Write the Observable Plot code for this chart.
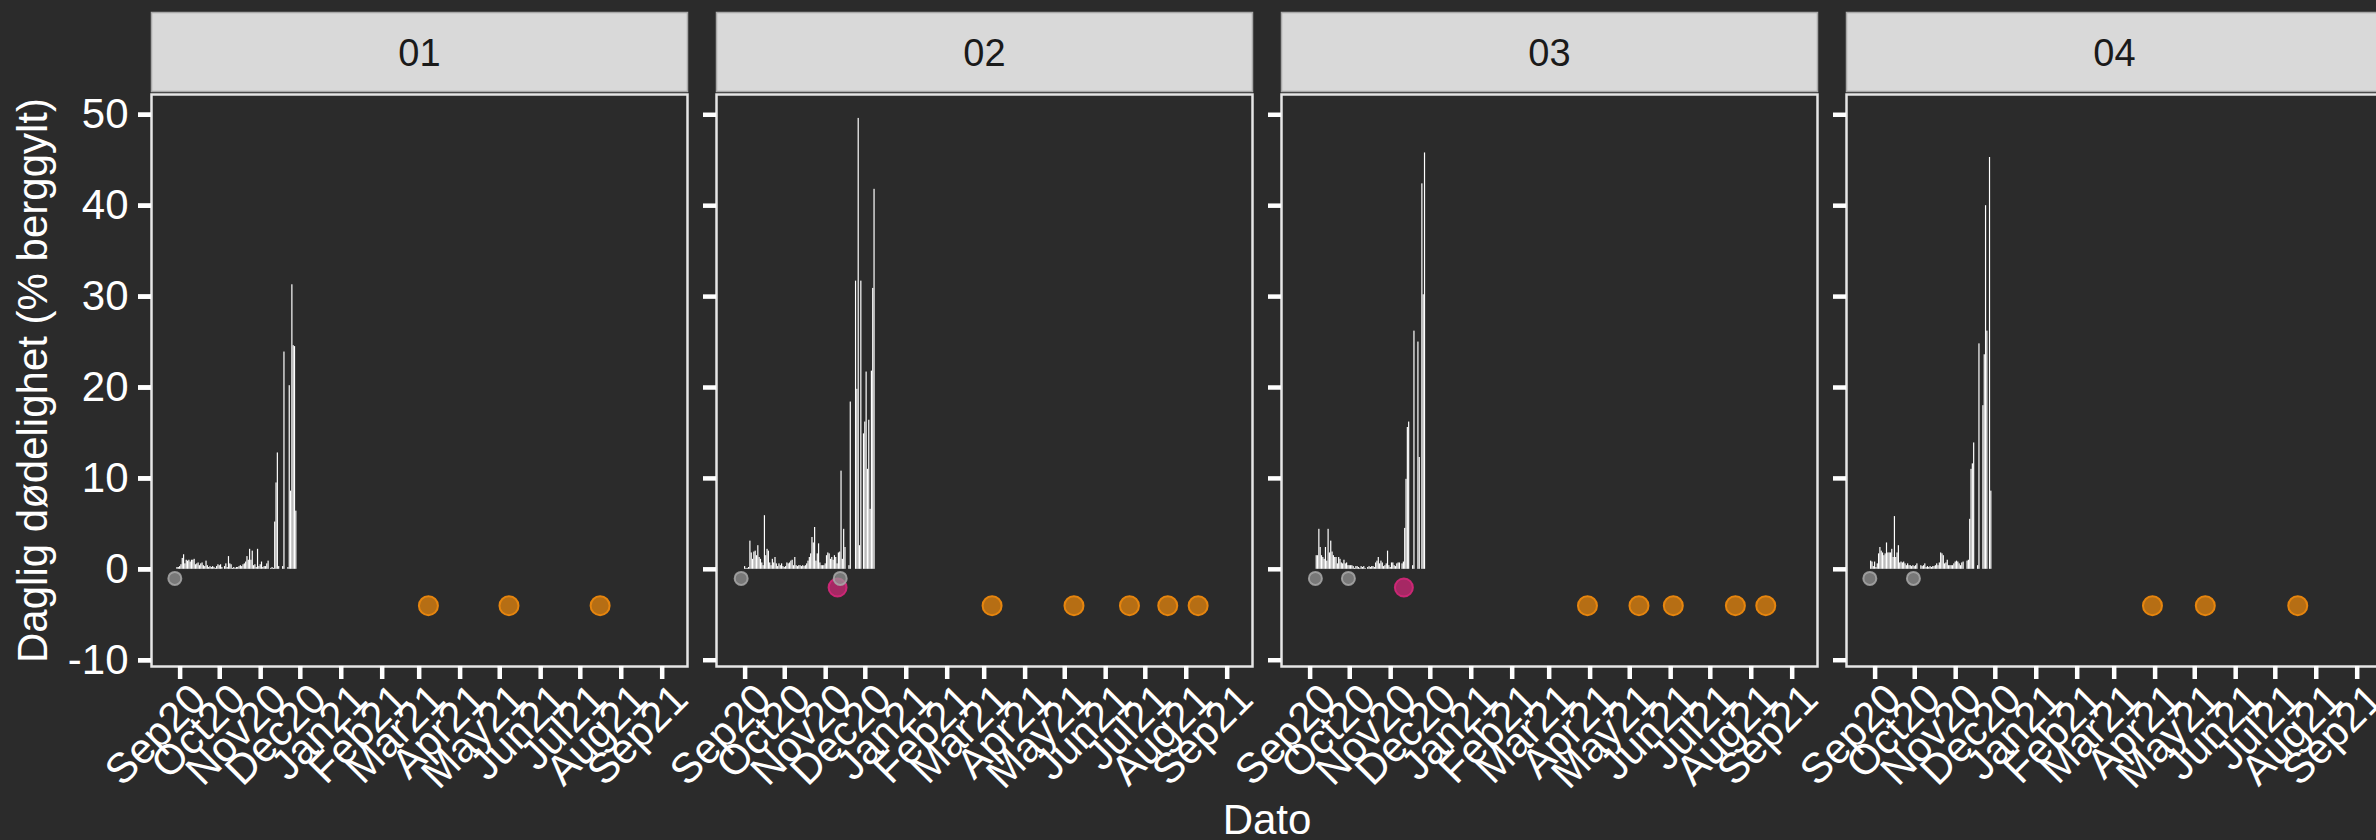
<!DOCTYPE html>
<html>
<head>
<meta charset="utf-8">
<script src="https://cdn.jsdelivr.net/npm/d3@7"></script>
<script src="https://cdn.jsdelivr.net/npm/@observablehq/plot@0.6"></script>
<style>
html, body { margin: 0; padding: 0; background: #2b2b2b; overflow: hidden; width: 2376px; height: 840px; }
#chart svg { max-width: none !important; display: block; }
</style>
</head>
<body>
<div id="chart"></div>
<script>
// ---- categories / ticks ----
const facets = ["01", "02", "03", "04"];
const yTicks = [-10, 0, 10, 20, 30, 40, 50];
const monthTicks = ["2020-09-01","2020-10-01","2020-11-01","2020-12-01","2021-01-01","2021-02-01",
  "2021-03-01","2021-04-01","2021-05-01","2021-06-01","2021-07-01","2021-08-01","2021-09-01"];
const xDomain = ["2020-08-10T08:00:00Z", "2021-09-20T04:00:00Z"];
const yDomain = [-10.69, 52.23];

// ---- daily mortality (% berggylt), one value per day from barStart ----
const barStart = ["2020-08-30", "2020-09-01", "2020-09-06", "2020-08-29"];
const bars01 = [0.2,0.2,0.3,0.5,1.2,1.6,0.6,1.0,0.9,1.0, 0.8,1.0,1.0,1.1,0.5,0.6,0.7,0.4,0.6,0.7,
  0.4,0.3,0.9,0.4,0.2,0.3,0.2,0.3,0.2,0.1, 0.3,0.5,0.4,0.5,0.2,0.0,0.3,0.6,0.2,1.4,
  0.6,0.5,0.1,0.2,0.1,0.2,0.2,0.3,0.4,0.3, 0.5,0.6,0.8,1.4,1.0,2.2,1.0,2.0,0.4,0.5,
  0.2,2.2,0.3,0.5,0.8,0.2,0.3,0.3,0.6,0.9, 0.0,0.1,0.2,0.1,5.2,9.5,12.8,0.3,0.0,0.0,
  0.3,23.9,0.0,0.0,0.2,20.2,8.6,31.3,24.6,24.5, 6.4];
const bars02 = [0.3,0.1,0.1,0.2,3.1,1.8,1.1,1.9,2.0,1.5, 2.6,1.3,1.1,0.7,0.4,5.9,1.5,2.2,2.0,0.7,
  0.4,1.1,0.7,1.3,0.6,0.3,0.6,0.4,0.6,0.3, 0.2,0.3,0.7,0.6,0.7,0.9,1.0,0.4,1.3,0.4,
  0.3,0.4,0.4,0.3,0.4,0.3,0.4,0.6,0.9,1.3, 1.7,3.5,2.9,4.6,0.9,1.7,2.8,0.7,0.4,0.4,
  0.4,0.6,1.5,1.8,1.7,1.1,1.3,1.0,1.5,1.3, 0.6,1.8,1.9,10.8,1.1,4.4,2.4,0.0,0.0,0.4,
  18.4,0.0,0.0,0.0,31.7,19.8,49.6,2.6,31.7,0.0, 14.9,16.2,21.7,11.0,16.4,6.6,21.8,30.9,41.8];
const bars03 = [1.5,1.5,4.4,2.4,1.5,1.3,1.1,2.4,0.9,4.4, 1.8,3.1,1.9,1.5,1.3,1.3,0.6,1.3,1.1,0.7,
  0.6,1.0,0.6,0.7,0.4,0.4,0.4,0.4,0.3,0.1, 0.3,0.3,0.2,0.1,0.3,0.2,0.3,0.1,0.0,0.2,
  0.3,0.2,0.3,0.3,0.2,0.7,0.9,1.3,0.6,0.9, 0.7,0.3,0.4,0.6,2.0,0.4,0.2,0.7,0.7,0.4,
  0.3,0.6,0.7,0.7,0.0,0.6,0.8,4.5,9.9,15.6, 16.2,0.0,0.0,0.4,26.2,0.0,0.0,25.0,12.3,0.0,
  42.4,30.2,45.8];
const bars04 = [0.9,0.8,0.3,0.8,0.2,0.6,1.7,2.4,2.0,1.8, 1.5,1.7,2.9,1.8,1.8,1.8,2.2,1.3,5.8,1.3,
  1.8,2.6,0.7,0.8,0.7,0.8,0.6,0.4,0.6,0.4, 0.4,0.3,0.4,0.3,0.4,0.6,0.0,0.0,0.4,0.3,
  0.4,0.6,0.2,0.3,0.2,0.3,0.2,0.3,0.3,0.4, 0.6,0.4,0.7,1.8,1.7,1.5,0.6,0.7,1.0,0.4,
  0.4,0.4,0.4,0.6,0.8,0.9,0.8,0.6,0.4,0.7, 0.8,0.0,0.0,0.9,1.0,5.5,11.0,11.6,13.9,0.0,
  0.0,0.4,24.8,0.0,0.0,18.0,23.6,40.0,26.2,0.0, 45.3,8.6];

// ---- event markers ----
const grayFacet = ["01", "02", "02", "03", "03", "04", "04"];
const grayDate = ["2020-08-28", "2020-08-29", "2020-11-12", "2020-09-05", "2020-09-30", "2020-08-28", "2020-09-30"];
const grayLevel = -1;
const magentaFacet = ["02", "03"];
const magentaDate = ["2020-11-10", "2020-11-11"];
const magentaLevel = -2;
const orangeFacet = ["01","01","01", "02","02","02","02","02", "03","03","03","03","03", "04","04","04"];
const orangeDate = ["2021-03-08","2021-05-08","2021-07-16",
  "2021-03-07","2021-05-08","2021-06-19","2021-07-18","2021-08-10",
  "2021-03-30","2021-05-08","2021-06-03","2021-07-20","2021-08-12",
  "2021-03-30","2021-05-09","2021-07-18"];
const orangeLevel = -4;

// ---- tables built from the arrays ----
const DAY = 864e5;
const bars = [];
[bars01, bars02, bars03, bars04].forEach((vals, i) => {
  const s = Date.parse(barStart[i] + "T00:00:00Z");
  vals.forEach((v, j) => {
    const t = s + j * DAY;
    bars.push({facet: facets[i], x1: new Date(t - 0.45 * DAY), x2: new Date(t + 0.45 * DAY), value: v});
  });
});
const pts = (fs, ds, lvl) => fs.map((f, i) => ({facet: f, date: new Date(ds[i] + "T00:00:00Z"), y: lvl}));
const grayPts = pts(grayFacet, grayDate, grayLevel);
const magentaPts = pts(magentaFacet, magentaDate, magentaLevel);
const orangePts = pts(orangeFacet, orangeDate, orangeLevel);
const monthDates = monthTicks.map(d => new Date(d + "T00:00:00Z"));
const fmtMonth = d3.utcFormat("%b%y");

const chart = Plot.plot({
  width: 2390,
  height: 840,
  marginLeft: 150,
  marginRight: 7,
  marginTop: 94,
  marginBottom: 174,
  style: "background:#2b2b2b; color:white; font-family:'Liberation Sans', Arial, Helvetica, sans-serif; max-width:none; overflow:visible;",
  fx: {domain: facets, paddingInner: 0.0513, paddingOuter: 0, axis: null, label: null},
  x: {type: "utc", domain: xDomain.map(d => new Date(d)), axis: null},
  y: {domain: yDomain, axis: null},
  marks: [
    // facet strips
    Plot.frame({fill: "#d9d9d9", stroke: "#a8a8a8", strokeWidth: 1.5, insetTop: -82, insetBottom: 575}),
    Plot.text(facets, {fx: d => d, text: d => d, frameAnchor: "top", lineAnchor: "middle", dy: -41, fontSize: 38, fill: "#1a1a1a"}),
    // bars
    Plot.rectY(bars, {fx: "facet", x1: "x1", x2: "x2", y: "value", fill: "white"}),
    // markers
    Plot.dot(magentaPts, {fx: "facet", x: "date", y: "y", r: 9, fill: "#d6277a", fillOpacity: 0.72, stroke: "#d6277a", strokeOpacity: 0.9, strokeWidth: 2}),
    Plot.dot(grayPts, {fx: "facet", x: "date", y: "y", r: 6.5, fill: "#9a9a9a", fillOpacity: 0.7, stroke: "#a8a8a8", strokeOpacity: 0.85, strokeWidth: 2}),
    Plot.dot(orangePts, {fx: "facet", x: "date", y: "y", r: 9.5, fill: "#e6850e", fillOpacity: 0.75, stroke: "#e6850e", strokeWidth: 2}),
    // panel border
    Plot.frame({stroke: "#e6e6e6", strokeWidth: 2.5}),
    // y axis: ticks in every panel, labels in the first
    Plot.axisY(yTicks, {tickSize: 13, tickFormat: () => "", stroke: "white", strokeWidth: 4.5, facetAnchor: null, label: null}),
    Plot.axisY(yTicks, {tickSize: 13, tickPadding: 10, tickFormat: d => String(d), fontSize: 42, fill: "white", stroke: "white", strokeWidth: 4.5, facetAnchor: "left", label: null}),
    // x axis: ticks + rotated month labels
    Plot.axisX(monthDates, {tickSize: 13, tickFormat: () => "", stroke: "white", strokeWidth: 4.5, label: null}),
    Plot.text(monthDates, {x: d => d, text: fmtMonth, frameAnchor: "bottom", rotate: -45, textAnchor: "end", lineAnchor: "top", dx: 7, dy: 14, fontSize: 42, fill: "white"}),
    // axis titles
    Plot.text(["Daglig dødelighet (% berggylt)"], {facet: "super", frameAnchor: "left", rotate: -90, dx: -134, textAnchor: "middle", lineAnchor: "top", fontSize: 42, fill: "white"}),
    Plot.text(["Dato"], {facet: "super", frameAnchor: "bottom", dy: 167, lineAnchor: "bottom", fontSize: 42, fill: "white"})
  ]
});
document.getElementById("chart").appendChild(chart);
</script>
</body>
</html>
